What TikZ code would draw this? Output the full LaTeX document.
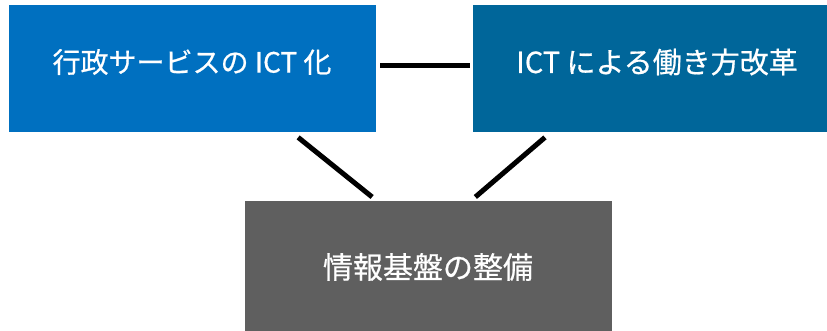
\documentclass[tikz,border=0pt]{standalone}
\usepackage{fontspec}
\setmainfont[FakeBold=0.6]{Noto Sans CJK JP}
\usetikzlibrary{calc}
\definecolor{boxA}{HTML}{0070C0}
\definecolor{boxB}{HTML}{00669A}
\definecolor{boxC}{HTML}{5F5F5F}
\tikzset{
  box/.style={draw=none, rectangle, anchor=north west, inner sep=0pt},
  label/.style={text=white, inner sep=0pt, font=\fontsize{29}{32}\selectfont},
  link/.style={line width=5pt, black}
}
\begin{document}
\begin{tikzpicture}[x=1pt,y=-1pt]
\useasboundingbox (0,0) rectangle (827,331);
\node[box, fill=boxA, minimum width=367pt, minimum height=127pt] (L) at (9,5) {};
\node[label, font=\fontsize{28}{32}\selectfont] (Lt) at (192,62) {行政サービスの ICT 化};
\node[box, fill=boxB, minimum width=354pt, minimum height=127pt] (R) at (473,5) {};
\node[label] (Rt) at (657,62) {ICT による働き方改革};
\node[box, fill=boxC, minimum width=367pt, minimum height=130pt] (B) at (245,201) {};
\node[label, font=\fontsize{30}{32}\selectfont] (Bt) at (428,267) {情報基盤の整備};
\coordinate (l1) at ($(L.south west)!0.787!(L.south east)+(0,5)$);
\coordinate (l2) at ($(B.north west)!0.346!(B.north east)+(0,-4)$);
\coordinate (r1) at ($(R.south west)!0.203!(R.south east)+(0,5)$);
\coordinate (r2) at ($(B.north west)!0.627!(B.north east)+(0,-4)$);
\draw[link] ($(L.east)+(4,-3)$) coordinate (h1) -- ($(R.west)+(-3,-3)$) coordinate (h2);
\draw[link] (l1) -- (l2);
\draw[link] (r1) -- (r2);
\end{tikzpicture}
\end{document}
